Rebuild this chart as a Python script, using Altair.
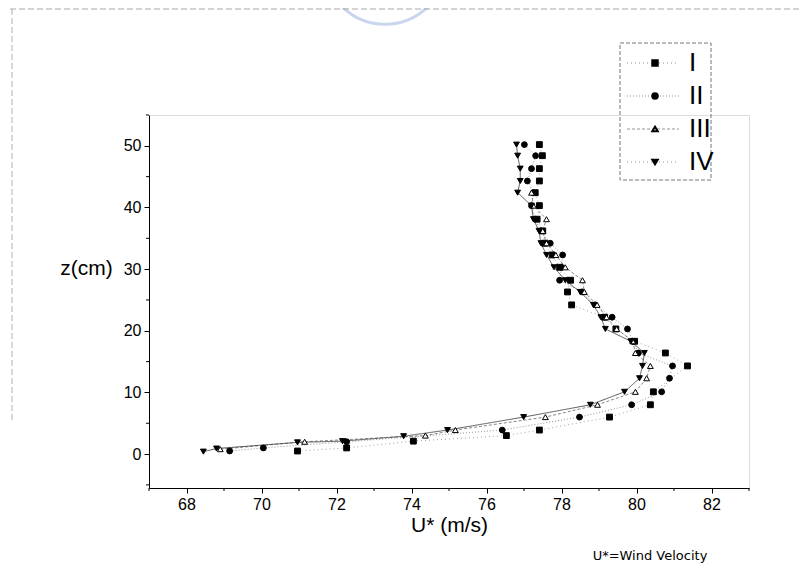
import altair as alt
import pandas as pd

# ---- data ----
series_names = ["I", "II", "III", "IV"]

z_I = [0.5, 1.0, 2.1, 3.0, 3.9, 6.0, 8.0, 10.1, 14.3, 16.4, 18.3, 20.3, 22.2, 24.2, 26.3,
       28.2, 30.3, 32.3, 34.2, 36.2, 38.1, 40.3, 42.4, 44.3, 46.3, 48.4, 50.2]
u_I = [70.96, 72.27, 74.05, 76.53, 77.41, 79.28, 80.37, 80.45, 81.36, 80.77, 79.95, 79.45,
       79.15, 78.27, 78.16, 78.24, 77.95, 77.75, 77.55, 77.50, 77.35, 77.41, 77.30, 77.41,
       77.41, 77.49, 77.41]

z_II = [0.5, 1.0, 2.0, 3.9, 6.0, 8.0, 10.1, 12.3, 14.3, 16.4, 18.3, 20.3, 22.2, 24.2, 26.3,
        28.2, 30.3, 32.3, 34.2, 36.2, 38.1, 40.3, 42.4, 44.3, 46.3, 48.4, 50.2]
u_II = [69.15, 70.05, 72.27, 76.42, 78.48, 79.87, 80.67, 80.88, 80.96, 80.05, 79.90, 79.76,
        79.35, 78.90, 78.55, 77.95, 78.00, 78.03, 77.70, 77.45, 77.30, 77.20, 77.25, 77.09,
        77.20, 77.31, 77.01]

z_III = [0.8, 2.0, 3.0, 3.9, 6.0, 8.0, 10.1, 12.3, 14.3, 16.4, 18.3, 20.3, 22.2, 24.2, 26.3,
         28.2, 30.3, 32.3, 34.2, 36.2, 38.1, 40.3, 42.4]
u_III = [68.90, 71.15, 74.37, 75.17, 77.57, 78.96, 79.97, 80.27, 80.37, 79.97, 79.90, 79.47,
         79.20, 78.95, 78.61, 78.56, 78.10, 77.85, 77.60, 77.50, 77.60, 77.25, 77.20]

z_IV = [0.4, 0.9, 1.9, 2.1, 2.9, 3.9, 6.0, 8.0, 10.1, 12.3, 14.3, 16.4, 18.3, 20.3, 22.2,
        24.2, 26.3, 28.2, 30.3, 32.3, 34.2, 36.2, 38.1, 40.3, 42.4, 44.3, 46.3, 48.4, 50.2]
u_IV = [68.45, 68.80, 70.96, 72.16, 73.79, 74.96, 76.99, 78.77, 79.68, 80.08, 80.16, 80.21,
        79.85, 79.17, 79.05, 78.85, 78.50, 78.10, 77.80, 77.60, 77.45, 77.40, 77.25, 77.20,
        76.83, 76.90, 76.90, 76.83, 76.80]

x_ticks = [68, 70, 72, 74, 76, 78, 80, 82]
x_minor = [67, 69, 71, 73, 75, 77, 79, 81, 83]
y_ticks = [0, 10, 20, 30, 40, 50]
y_minor = [-5, 5, 15, 25, 35, 45, 55]

rows = []
for name, us, zs in [("I", u_I, z_I), ("II", u_II, z_II), ("III", u_III, z_III), ("IV", u_IV, z_IV)]:
    for u, z in zip(us, zs):
        rows.append({"series": name, "U": u, "z": z})
df = pd.DataFrame(rows)

W, H = 600, 373
FONT = "Liberation Sans"

x_scale = alt.Scale(domain=[67, 83], nice=False, zero=False)
y_scale = alt.Scale(domain=[-5.5, 55], nice=False, zero=False)
shape_scale = alt.Scale(domain=series_names,
                        range=["square", "circle", "triangle-up", "triangle-down"])
dash_scale = alt.Scale(domain=series_names, range=[[1, 3], [1, 2], [3, 2], [1, 0]])
lcolor_scale = alt.Scale(domain=series_names, range=["#9a9a9a", "#8a8a8a", "#777777", "#444444"])

x_enc = alt.X("U:Q", scale=x_scale,
              axis=alt.Axis(values=x_ticks, format="d", title="U* (m/s)", grid=False,
                            labelFontSize=16, labelFont=FONT, labelColor="black",
                            titleFont=FONT, titleFontSize=21, titleFontWeight="normal",
                            titleColor="black", titlePadding=2, tickSize=5, tickColor="black",
                            domainColor="black", labelPadding=3))
y_enc = alt.Y("z:Q", scale=y_scale,
              axis=alt.Axis(values=y_ticks, format="d", title="z(cm)", grid=False,
                            labelFontSize=16, labelFont=FONT, labelColor="black",
                            titleFont=FONT, titleFontSize=21, titleFontWeight="normal",
                            titleColor="black", titleAngle=0, titleAlign="center",
                            titleBaseline="middle", titleX=-63, titleY=153,
                            tickSize=5, tickColor="black", domainColor="black",
                            labelPadding=3))

lines = alt.Chart(df).mark_line(strokeWidth=0.9).encode(
    x=x_enc, y=y_enc,
    detail="series:N",
    order="z:Q",
    strokeDash=alt.StrokeDash("series:N", scale=dash_scale, legend=None),
    color=alt.Color("series:N", scale=lcolor_scale, legend=None),
)

points = alt.Chart(df).mark_point(size=34, opacity=1, strokeWidth=1).encode(
    x="U:Q", y="z:Q",
    shape=alt.Shape("series:N", scale=shape_scale, legend=None),
    fill=alt.condition(alt.datum.series == "III", alt.value("white"), alt.value("black")),
    stroke=alt.value("black"),
)

xm = pd.DataFrame({"v": x_minor})
ym = pd.DataFrame({"v": y_minor})
x_minor_ticks = alt.Chart(xm).mark_rule(color="black", strokeWidth=1).encode(
    x=alt.X("v:Q", scale=x_scale), y=alt.value(H), y2=alt.value(H + 3))
y_minor_ticks = alt.Chart(ym).mark_rule(color="black", strokeWidth=1).encode(
    y=alt.Y("v:Q", scale=y_scale), x=alt.value(0), x2=alt.value(-3))

note = alt.Chart(pd.DataFrame({"t": ["U*=Wind Velocity"]})).mark_text(
    font="DejaVu Sans", fontSize=13, color="black", align="center", baseline="middle"
).encode(text="t:N", x=alt.value(501), y=alt.value(441))

# legend (box, dotted segments, markers, labels)
leg_y = [-52, -19, 14, 47]
box = alt.Chart(pd.DataFrame({"a": [0]})).mark_rect(
    fill=None, stroke="#777777", strokeWidth=1, strokeDash=[4, 2]
).encode(x=alt.value(471), x2=alt.value(562), y=alt.value(-72), y2=alt.value(65))

leg_layers = [box]
leg_shapes = ["square", "circle", "triangle-up", "triangle-down"]
leg_dash = [[1, 3], [1, 2], [3, 2], [1, 3]]
for i, name in enumerate(series_names):
    ly = leg_y[i]
    leg_layers.append(alt.Chart(pd.DataFrame({"a": [0]})).mark_rule(
        color="#888888", strokeWidth=0.9, strokeDash=leg_dash[i]
    ).encode(x=alt.value(478), x2=alt.value(530), y=alt.value(ly)))
    leg_layers.append(alt.Chart(pd.DataFrame({"a": [0]})).mark_point(
        shape=leg_shapes[i], size=30, opacity=1, stroke="black",
        fill="white" if name == "III" else "black"
    ).encode(x=alt.value(506), y=alt.value(ly)))
    leg_layers.append(alt.Chart(pd.DataFrame({"t": [name]})).mark_text(
        font=FONT, fontSize=26, color="black", align="left", baseline="middle"
    ).encode(text="t:N", x=alt.value(540), y=alt.value(ly)))

# faint scan border lines
top_line = alt.Chart(pd.DataFrame({"a": [0]})).mark_rule(
    color="#a8a8a8", strokeWidth=1, strokeDash=[6, 3]
).encode(x=alt.value(-139), x2=alt.value(661), y=alt.value(-106))
left_line = alt.Chart(pd.DataFrame({"a": [0]})).mark_rule(
    color="#b0b0b0", strokeWidth=1, strokeDash=[6, 3]
).encode(x=alt.value(-137), y=alt.value(-106), y2=alt.value(305))

# faint watermark arc at the top centre of the scan
watermark = alt.Chart(pd.DataFrame({"a": [0]})).mark_point(
    shape="circle", size=15000, filled=False, stroke="#c9d6ee", strokeWidth=3, opacity=1
).encode(x=alt.value(236), y=alt.value(-152))

chart = alt.layer(watermark, lines, points, x_minor_ticks, y_minor_ticks, note,
                  top_line, left_line, *leg_layers).properties(
    width=W, height=H,
    autosize=alt.AutoSizeParams(type="none"),
    padding={"left": 141, "top": 107, "right": 53, "bottom": 85},
).configure_view(stroke=None).configure(background="white")

chart.save("out.html", embed_options={"renderer": "svg", "actions": False})
